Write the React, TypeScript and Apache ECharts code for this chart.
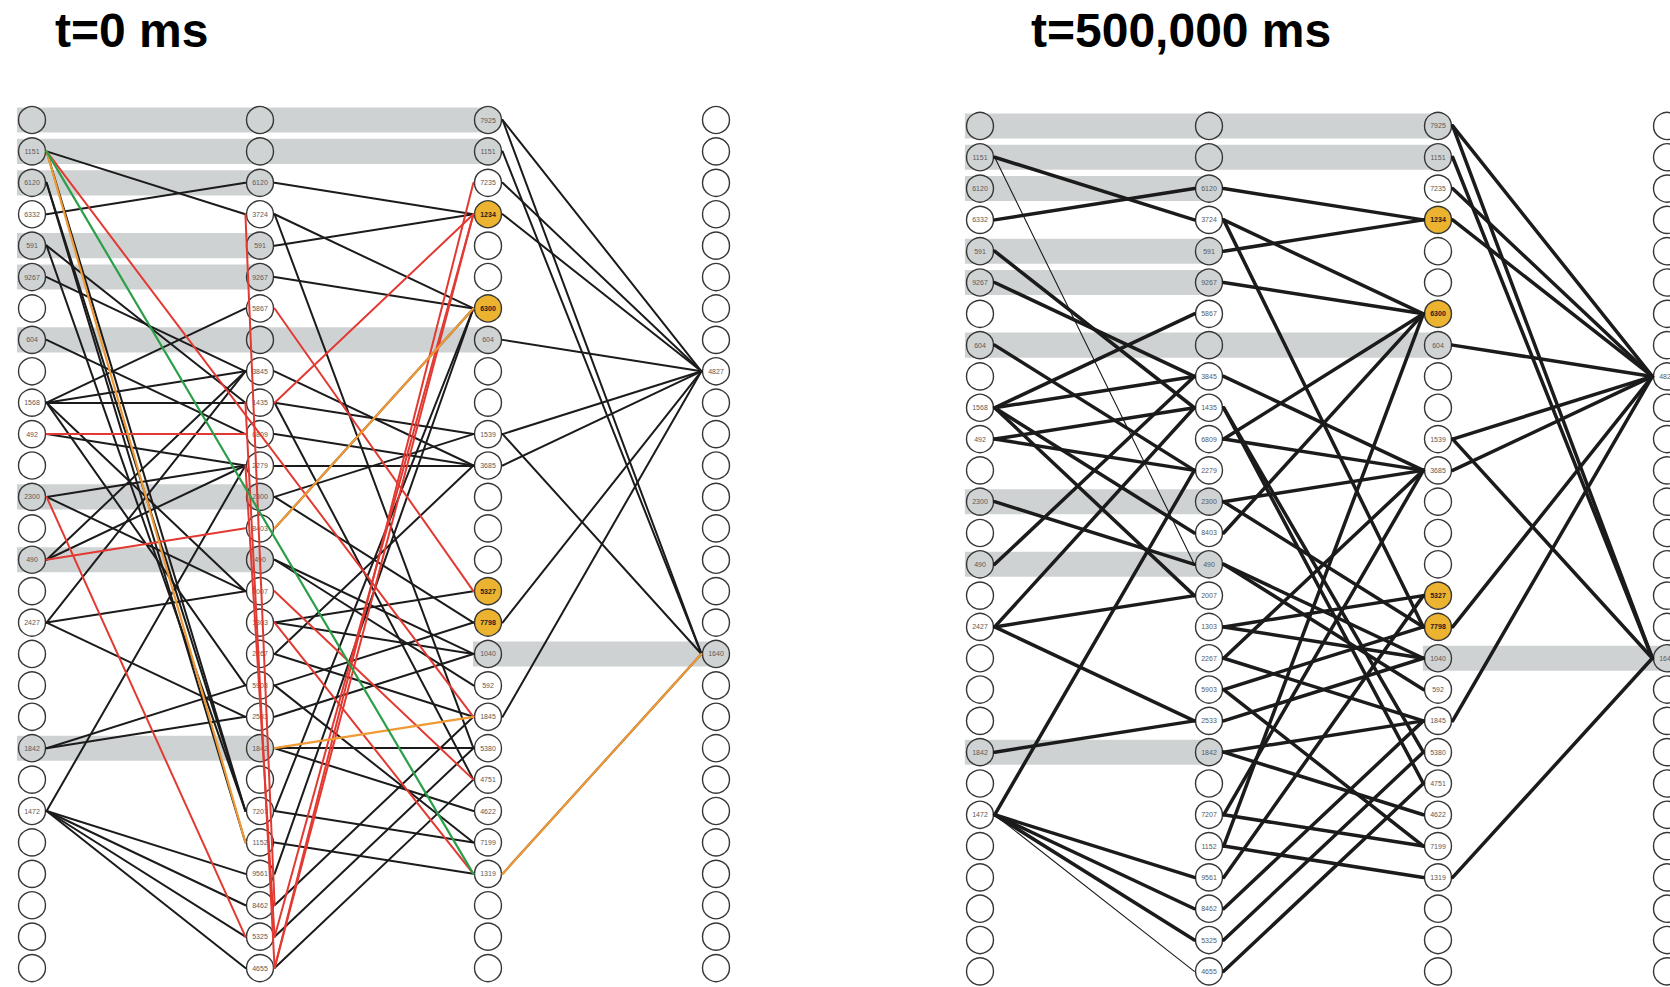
import React, { useEffect, useRef } from "react";
import * as echarts from "echarts";

// Four layers of 28 neurons each; "" means the neuron carries no id.
const ROWS = 28;
const LAYER_1_IDS: string[] = [
  "", "1151", "6120", "6332", "591", "9267", "", "604", "", "1568", "492", "", "2300", "",
  "490", "", "2427", "", "", "", "1842", "", "1472", "", "", "", "", "",
];
const LAYER_2_IDS: string[] = [
  "", "", "6120", "3724", "591", "9267", "5867", "", "3845", "1435", "6809", "2279", "2300", "8403",
  "490", "2007", "1303", "2267", "5903", "2533", "1842", "", "7207", "1152", "9561", "8462", "5325", "4655",
];
const LAYER_3_IDS: string[] = [
  "7925", "1151", "7235", "1234", "", "", "6300", "604", "", "", "1539", "3685", "", "",
  "", "5327", "7798", "1040", "592", "1845", "5380", "4751", "4622", "7199", "1319", "", "", "",
];
const LAYER_4_IDS: string[] = [
  "", "", "", "", "", "", "", "", "4827", "", "", "", "", "",
  "", "", "", "1640", "", "", "", "", "", "", "", "", "", "",
];
const LAYER_IDS = [LAYER_1_IDS, LAYER_2_IDS, LAYER_3_IDS, LAYER_4_IDS];

// Rows of each layer that hold inactive (grey) and firing (gold) neurons.
const GREY_ROWS: number[][] = [
  [0, 1, 2, 4, 5, 7, 12, 14, 20],
  [0, 1, 2, 4, 5, 7, 12, 14, 20],
  [0, 1, 7, 17],
  [17],
];
const GOLD_ROWS: number[][] = [[], [], [3, 6, 15, 16], []];

// Shared-id channels: [row, first layer, last layer]
const CHANNELS: [number, number, number][] = [
  [0, 0, 2], [1, 0, 2], [2, 0, 1], [4, 0, 1], [5, 0, 1], [7, 0, 2],
  [12, 0, 1], [14, 0, 1], [17, 2, 3], [20, 0, 1],
];

const PANEL_TITLES = ["t=0 ms", "t=500,000 ms"];

// Synapses: [source layer, source row, target layer, target row]
type Synapse = [number, number, number, number];

const T0_BLACK: Synapse[] = [
  [0, 1, 1, 3], [0, 1, 1, 22], [0, 2, 1, 22], [0, 2, 1, 23], [0, 3, 1, 2], [0, 4, 1, 9],
  [0, 4, 1, 22], [0, 5, 1, 8], [0, 7, 1, 10], [0, 9, 1, 6], [0, 9, 1, 8], [0, 9, 1, 9],
  [0, 9, 1, 15], [0, 9, 1, 18], [0, 10, 1, 11], [0, 12, 1, 11], [0, 12, 1, 15], [0, 14, 1, 11],
  [0, 14, 1, 8], [0, 16, 1, 8], [0, 16, 1, 15], [0, 16, 1, 19], [0, 20, 1, 19], [0, 20, 1, 18],
  [0, 22, 1, 11], [0, 22, 1, 24], [0, 22, 1, 25], [0, 22, 1, 26], [0, 22, 1, 27],
  [1, 2, 2, 3], [1, 3, 2, 6], [1, 3, 2, 20], [1, 4, 2, 3], [1, 5, 2, 6], [1, 8, 2, 11],
  [1, 9, 2, 10], [1, 9, 2, 21], [1, 10, 2, 11], [1, 11, 2, 11], [1, 12, 2, 10], [1, 12, 2, 16],
  [1, 13, 2, 6], [1, 14, 2, 17], [1, 14, 2, 18], [1, 16, 2, 15], [1, 16, 2, 17], [1, 17, 2, 11],
  [1, 17, 2, 19], [1, 18, 2, 16], [1, 18, 2, 23], [1, 19, 2, 17], [1, 20, 2, 22], [1, 20, 2, 20],
  [1, 22, 2, 23], [1, 22, 2, 6], [1, 23, 2, 24], [1, 24, 2, 6], [1, 25, 2, 19], [1, 26, 2, 20],
  [1, 27, 2, 21],
  [2, 0, 3, 8], [2, 0, 3, 17], [2, 1, 3, 17], [2, 2, 3, 8], [2, 3, 3, 8], [2, 7, 3, 8],
  [2, 10, 3, 8], [2, 10, 3, 17], [2, 11, 3, 8], [2, 16, 3, 8], [2, 19, 3, 8], [2, 24, 3, 17],
];
const T0_RED: Synapse[] = [
  [0, 1, 2, 19], [0, 10, 1, 10], [0, 14, 1, 13], [0, 12, 1, 26], [1, 6, 2, 15], [1, 9, 2, 3],
  [1, 27, 2, 2], [1, 27, 2, 3], [1, 26, 2, 3], [1, 15, 2, 21], [1, 16, 2, 24],
];
// Lateral synapses inside layer 2
const T0_RED_LATERAL: Synapse[] = [[1, 3, 1, 25], [1, 9, 1, 27], [1, 11, 1, 26]];
const T0_ORANGE: Synapse[] = [[0, 1, 1, 23], [1, 13, 2, 6], [1, 20, 2, 19], [2, 24, 3, 17]];
const T0_GREEN: Synapse[] = [[0, 1, 2, 24]];

const T500K_STRONG: Synapse[] = [
  [0, 1, 1, 3], [0, 3, 1, 2], [0, 4, 1, 9], [0, 5, 1, 8], [0, 7, 1, 11], [0, 9, 1, 6],
  [0, 9, 1, 8], [0, 9, 1, 13], [0, 9, 1, 15], [0, 10, 1, 9], [0, 10, 1, 11], [0, 12, 1, 14],
  [0, 14, 1, 8], [0, 16, 1, 9], [0, 16, 1, 15], [0, 16, 1, 19], [0, 20, 1, 19], [0, 22, 1, 11],
  [0, 22, 1, 24], [0, 22, 1, 25], [0, 22, 1, 26],
  [1, 2, 2, 3], [1, 3, 2, 6], [1, 3, 2, 16], [1, 4, 2, 3], [1, 5, 2, 6], [1, 8, 2, 11],
  [1, 9, 2, 20], [1, 9, 2, 21], [1, 10, 2, 11], [1, 10, 2, 6], [1, 12, 2, 11], [1, 12, 2, 16],
  [1, 13, 2, 6], [1, 14, 2, 17], [1, 14, 2, 18], [1, 16, 2, 15], [1, 16, 2, 17], [1, 17, 2, 11],
  [1, 17, 2, 19], [1, 18, 2, 16], [1, 18, 2, 23], [1, 19, 2, 17], [1, 20, 2, 19], [1, 20, 2, 22],
  [1, 22, 2, 23], [1, 22, 2, 11], [1, 23, 2, 24], [1, 23, 2, 6], [1, 24, 2, 15], [1, 25, 2, 19],
  [1, 26, 2, 20], [1, 27, 2, 21],
  [2, 0, 3, 8], [2, 0, 3, 17], [2, 1, 3, 17], [2, 2, 3, 8], [2, 3, 3, 8], [2, 7, 3, 8],
  [2, 10, 3, 8], [2, 10, 3, 17], [2, 11, 3, 8], [2, 16, 3, 8], [2, 19, 3, 8], [2, 24, 3, 17],
];
const T500K_WEAK: Synapse[] = [[0, 1, 1, 14], [0, 22, 1, 27]];

// Half a neuron's width, in layer units, so synapses start and end on the rim.
const RIM = 0.064;
const LABEL_FONT = '"Liberation Sans", Arial, sans-serif';

function synapseData(list: Synapse[], lateral = false) {
  return list.map(([c1, r1, c2, r2]) => ({
    coords: lateral
      ? [[c1 - RIM, r1], [c2 + RIM, r2]]
      : [[c1 + RIM, r1], [c2 - RIM, r2]],
  }));
}

function neuronData() {
  const out: any[] = [];
  LAYER_IDS.forEach((ids, c) => {
    ids.forEach((id, r) => {
      const gold = GOLD_ROWS[c].includes(r);
      const grey = GREY_ROWS[c].includes(r);
      out.push({
        name: id,
        value: [c, r],
        itemStyle: { color: gold ? "#ebb32f" : grey ? "#d0d3d4" : "#ffffff" },
        label: gold
          ? { color: "#1e1e1e", fontWeight: "bold" }
          : { color: "#5a5a5a" },
      });
    });
  });
  return out;
}

function panelSeries(idx: number, layers: { data: Synapse[]; color: string; width: number; lateral?: boolean }[]) {
  const series: any[] = [
    {
      type: "custom",
      xAxisIndex: idx,
      yAxisIndex: idx,
      z: 1,
      silent: true,
      clip: false,
      data: CHANNELS,
      encode: { x: [1, 2], y: 0 },
      renderItem: (_p: any, api: any) => {
        const row = api.value(0);
        const a = api.coord([api.value(1) - 0.066, row]);
        const b = api.coord([api.value(2), row]);
        const h = api.size([0, 0.8])[1];
        return {
          type: "rect",
          shape: { x: a[0], y: a[1] - h / 2, width: b[0] - a[0], height: h },
          style: { fill: "#cfd2d3" },
        };
      },
    },
    {
      type: "scatter",
      xAxisIndex: idx,
      yAxisIndex: idx,
      z: 2,
      symbol: "circle",
      symbolSize: 27,
      silent: true,
      clip: false,
      itemStyle: { borderColor: "#363636", borderWidth: 1.4, opacity: 1 },
      label: {
        show: true,
        position: "inside",
        formatter: "{b}",
        fontSize: 7,
        fontFamily: LABEL_FONT,
      },
      data: neuronData(),
    },
  ];
  layers.forEach((l) => {
    series.push({
      type: "lines",
      coordinateSystem: "cartesian2d",
      xAxisIndex: idx,
      yAxisIndex: idx,
      z: 3,
      silent: true,
      clip: false,
      lineStyle: { color: l.color, width: l.width, opacity: 1, cap: "round" },
      data: synapseData(l.data, l.lateral),
    });
  });
  return series;
}

export default function App() {
  const ref = useRef<HTMLDivElement>(null);

  useEffect(() => {
    if (!ref.current) return;
    const chart = echarts.init(ref.current, undefined, { renderer: "svg" });

    const colStep = [228, 229];
    const rowStep = 31.41;
    const firstCol = [32, 980];
    const firstRow = [120, 126];
    // The right-hand panel runs past the page edge, so its axis stops short of layer 4.
    const xMax = [3.1, 2.9];

    const grid = [0, 1].map((i) => ({
      left: firstCol[i] - 0.1 * colStep[i],
      top: firstRow[i] - 0.5 * rowStep,
      width: (xMax[i] + 0.1) * colStep[i],
      height: ROWS * rowStep,
      containLabel: false,
    }));

    const black = "#1b1b1b";
    const option: any = {
      animation: false,
      backgroundColor: "#ffffff",
      title: PANEL_TITLES.map((t, i) => ({
        text: t,
        left: i === 0 ? 55 : 1031,
        top: 6,
        padding: 0,
        textStyle: {
          fontFamily: LABEL_FONT,
          fontWeight: "bold",
          fontSize: 48,
          color: "#000000",
        },
      })),
      grid,
      xAxis: [0, 1].map((i) => ({
        type: "value",
        gridIndex: i,
        min: -0.1,
        max: xMax[i],
        show: false,
      })),
      yAxis: [0, 1].map((i) => ({
        type: "value",
        gridIndex: i,
        min: -0.5,
        max: ROWS - 0.5,
        inverse: true,
        show: false,
      })),
      series: [
        ...panelSeries(0, [
          { data: T0_BLACK, color: black, width: 2 },
          { data: T0_RED, color: "#e23a32", width: 2 },
          { data: T0_RED_LATERAL, color: "#e23a32", width: 2, lateral: true },
          { data: T0_ORANGE, color: "#ef9a35", width: 2.2 },
          { data: T0_GREEN, color: "#2a9f48", width: 2.2 },
        ]),
        ...panelSeries(1, [
          { data: T500K_STRONG, color: black, width: 3.5 },
          { data: T500K_WEAK, color: black, width: 1.1 },
        ]),
      ],
    };

    chart.setOption(option);
    return () => chart.dispose();
  }, []);

  return (
    <div
      ref={ref}
      style={{ position: "absolute", left: 0, top: 0, width: 1670, height: 987 }}
    />
  );
}
